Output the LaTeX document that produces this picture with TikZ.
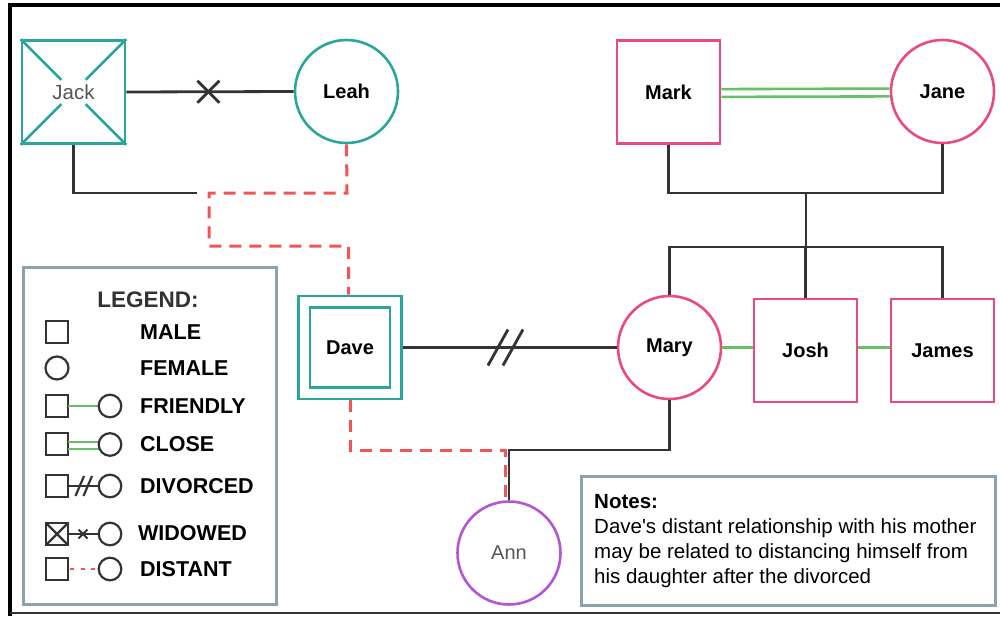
\documentclass[tikz,border=0pt]{standalone}
\usepackage{fontspec}
\setmainfont{Liberation Sans}[Ligatures=TeXOff]
\usetikzlibrary{calc}
\definecolor{teal}{HTML}{2AA69A}
\definecolor{pinkc}{HTML}{E94B7B}
\definecolor{purp}{HTML}{B455D4}
\definecolor{redd}{HTML}{F25555}
\definecolor{grn}{HTML}{66C166}
\definecolor{boxg}{HTML}{8DA2AF}
\definecolor{ink}{HTML}{333333}
\definecolor{gtxt}{HTML}{555555}
\tikzset{
  person/.style={draw, line width=2.6pt, inner sep=0pt, font=\fontsize{20}{22}\selectfont\bfseries, text=black},
  sqp/.style={person, rectangle, minimum size=103pt},
  cip/.style={person, circle, minimum size=103pt},
  conn/.style={draw=ink, line width=2.8pt},
  friendly/.style={draw=grn, line width=2.6pt},
  distant/.style={draw=redd, line width=3pt, dash pattern=on 12pt off 8pt},
  infobox/.style={draw=boxg, line width=2.8pt, fill=white},
  lsym/.style={draw=ink, line width=2.2pt},
  ltext/.style={anchor=west, font=\fontsize{21.5}{22}\selectfont\bfseries, text=black, inner sep=0pt},
}
\begin{document}
\begin{tikzpicture}[x=1pt,y=-1pt]
\useasboundingbox (0,0) rectangle (1000,616);
% frame
\draw[line width=4pt, black] (9.5,616) -- (9.5,5) -- (1000,5);
\draw[line width=2pt, ink] (9.5,613) -- (1000,613);

% people
\node[sqp, draw=teal] (Jack) at (73.5,92) {};
\node[font=\fontsize{20.5}{22}\selectfont, text=gtxt] (Jacklbl) at (73.5,92) {Jack};
\node[cip, draw=teal] (Leah) at (346.5,91.5) {Leah};
\node[sqp, draw=pinkc] (Mark) at (668.5,92) {Mark};
\node[cip, draw=pinkc] (Jane) at (942.5,91.5) {Jane};
\node[sqp, draw=teal] (Dave) at (350,347.5) {};
\node[sqp, draw=teal, minimum size=80pt] (Davein) at (350,347.5) {Dave};
\node[cip, draw=pinkc] (Mary) at (669.5,347.5) {Mary};
\node[sqp, draw=pinkc] (Josh) at (805.5,350.5) {Josh};
\node[sqp, draw=pinkc] (James) at (942.5,350.5) {James};
\node[cip, draw=purp, font=\fontsize{20}{22}\selectfont, text=gtxt] (Ann) at (509,553) {Ann};

% Jack cross (deceased)
\foreach \c in {north west, north east, south west, south east}
  \draw[draw=teal, line width=2.6pt] (Jack.\c) -- ($(Jack.\c)!0.77!(Jack.center)$);

% Jack - Leah widowed
\draw[conn] (Jack.east) -- coordinate[pos=0.49] (jx) (Leah.west);
\draw[conn] ($(jx)+(-11,-11)$) -- ($(jx)+(11,11)$);
\draw[conn] ($(jx)+(-11,11)$) -- ($(jx)+(11,-11)$);

% Jack child line
\coordinate (jackend) at (197,193);
\draw[conn] (Jack.south) |- (jackend);
% Leah -> Dave distant
\coordinate (lb1) at (347,193);
\coordinate (lb2) at (209,193);
\coordinate (lb3) at (209,246);
\coordinate (lb4) at (348.5,246);
\draw[distant] (Leah.south) -- (lb1) -- (lb2) -- (lb3) -- (lb4) -- (Dave.north -| lb4);

% Mark - Jane close
\draw[friendly] ([yshift=2.9pt]Mark.east) -- ([yshift=2.9pt]Jane.west);
\draw[friendly] ([yshift=-4.9pt]Mark.east) -- ([yshift=-4.9pt]Jane.west);

% children of Mark and Jane
\coordinate (mjbar) at (806,193);
\coordinate (sib) at (806,247);
\draw[conn] (Mark.south) |- (mjbar) -| (Jane.south);
\draw[conn] (mjbar) -- (sib);
\draw[conn] (Mary.north) |- (sib) -| (James.north);
\draw[conn] (Josh.north) -- (Josh.north |- sib);

% siblings friendly
\draw[friendly] (Mary.east) -- (Mary.east -| Josh.west);
\draw[friendly] (Mary.east -| Josh.east) -- (Mary.east -| James.west);

% Dave - Mary divorced
\draw[conn] (Dave.east) -- coordinate[pos=0.48] (dm) (Mary.west);
\draw[conn] ($(dm)+(-17.5,18)$) -- ($(dm)+(2.5,-18)$);
\draw[conn] ($(dm)+(-2.5,18)$) -- ($(dm)+(17.5,-18)$);

% Dave -> Ann distant, Mary -> Ann
\coordinate (annj) at (509,450);
\coordinate (annr) at (505,450);
\draw[distant] (Dave.south) |- (annr) -- ($(Ann.north)+(-4,0.5)$);
\draw[conn] (Mary.south) |- (annj) -- (Ann.north);

% Legend
\node[infobox, rectangle, minimum width=253pt, minimum height=337pt, anchor=north west] (legend) at (22,266) {};
\node[font=\fontsize{22.5}{24}\selectfont\bfseries, text=ink] (legtitle) at (148,300) {LEGEND:};
% MALE
\draw[lsym] (46,321) rectangle (68,343);
\node[ltext] (lmale) at (140,332) {MALE};
% FEMALE
\draw[lsym] (57,368) circle (11.5);
\node[ltext] (lfemale) at (140,368) {FEMALE};
% FRIENDLY
\draw[lsym] (46,395) rectangle (68,417);
\draw[friendly, line width=1.9pt] (68,406) -- (98.5,406);
\draw[lsym] (110,406) circle (11.3);
\node[ltext] (lfriendly) at (140,406) {FRIENDLY};
% CLOSE
\draw[lsym] (46,433) rectangle (68,455);
\draw[friendly, line width=1.9pt] (68,441.7) -- (98.5,441.7);
\draw[friendly, line width=1.9pt] (68,449.3) -- (98.5,449.3);
\draw[lsym] (110,444.5) circle (11.3);
\node[ltext] (lclose) at (140,444.5) {CLOSE};
% DIVORCED
\draw[lsym] (46,475) rectangle (68,497);
\draw[lsym] (68,486) -- (98.5,486);
\draw[lsym] (75.5,496) -- (84,476);
\draw[lsym] (83.5,496) -- (92,476);
\draw[lsym] (110,486) circle (11.3);
\node[ltext] (ldivorced) at (140,486) {DIVORCED};
% WIDOWED
\draw[lsym] (46,523) rectangle (68,545);
\draw[lsym] (46,523) -- (68,545);
\draw[lsym] (46,545) -- (68,523);
\draw[lsym] (68,534) -- (98.5,534);
\draw[lsym, line width=1.9pt] (78.5,529.5) -- (87.5,538.5);
\draw[lsym, line width=1.9pt] (78.5,538.5) -- (87.5,529.5);
\draw[lsym] (110,534) circle (11.3);
\node[ltext] (lwidowed) at (138,533) {WIDOWED};
% DISTANT
\draw[lsym] (46,558) rectangle (68,580);
\draw[draw=redd, line width=2.2pt, dash pattern=on 4pt off 6.5pt] (70,569) -- (98.5,569);
\draw[lsym] (110,569) circle (11.3);
\node[ltext] (ldistant) at (140,569) {DISTANT};

% Notes
\node[infobox, rectangle, minimum width=414pt, minimum height=129pt, anchor=north west] (notes) at (580,475) {};
\node[anchor=north west, inner sep=0pt, align=left, text=black,
      font=\fontsize{20.5}{25}\selectfont] (notestext) at (594,494.5)
  {{\bfseries Notes:}\\Dave's distant relationship with his mother\\may be related to distancing himself from\\his daughter after the divorced};
\end{tikzpicture}
\end{document}
